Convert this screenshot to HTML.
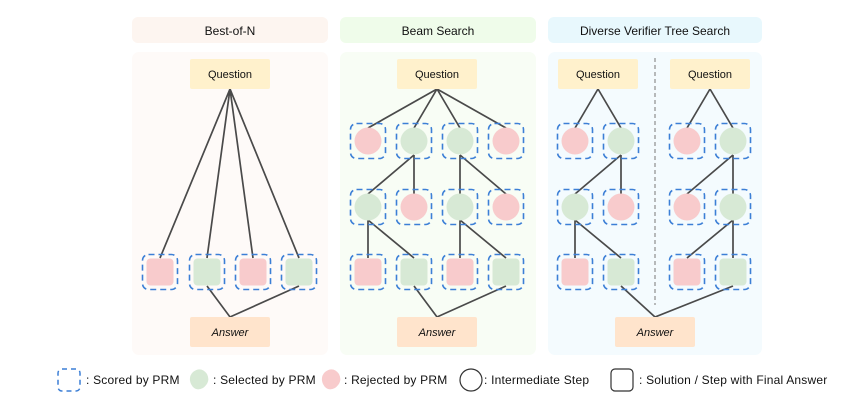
<!DOCTYPE html>
<html><head><meta charset="utf-8"><style>
body{margin:0;background:#fff;}
svg{display:block;font-family:"Comic Sans MS","Liberation Sans",sans-serif;}
</style></head><body>
<svg width="866" height="405" viewBox="0 0 866 405" xmlns="http://www.w3.org/2000/svg">
<defs>
<g id="dbox"><rect x="-17.5" y="-17.5" width="35" height="35" rx="6" fill="none" stroke="#3c7fd6" stroke-width="1.6" stroke-dasharray="6,4"/></g>
<g id="cr"><use href="#dbox"/><circle r="13.5" fill="#f8cbcc"/></g>
<g id="cg"><use href="#dbox"/><circle r="13.5" fill="#d7e9d5"/></g>
<g id="sr"><use href="#dbox"/><rect x="-13.5" y="-13.5" width="27" height="27" rx="4" fill="#f8cbcc"/></g>
<g id="sg"><use href="#dbox"/><rect x="-13.5" y="-13.5" width="27" height="27" rx="4" fill="#d7e9d5"/></g>
</defs>
<rect x="132" y="17" width="196" height="26" rx="6" fill="#fdf5f0"/>
<rect x="340" y="17" width="196" height="26" rx="6" fill="#effcea"/>
<rect x="548" y="17" width="214" height="26" rx="6" fill="#e8f8fd"/>
<text x="230" y="35" font-size="12" text-anchor="middle" fill="#111">Best-of-N</text>
<text x="438" y="35" font-size="12" text-anchor="middle" fill="#111">Beam Search</text>
<text x="655" y="35" font-size="12" text-anchor="middle" fill="#111">Diverse Verifier Tree Search</text>
<rect x="132" y="52" width="196" height="303" rx="7" fill="#fefaf8"/>
<rect x="340" y="52" width="196" height="303" rx="7" fill="#f8fdf5"/>
<rect x="548" y="52" width="214" height="303" rx="7" fill="#f4fbfe"/>
<g stroke="#4a4a4a" stroke-width="1.7" fill="none">
<path d="M230 89 L160 258 M230 89 L207 258 M230 89 L253 258 M230 89 L299 258"/>
<path d="M207 286 L230 317 L299 286"/>
<path d="M437 89 L368 128 M437 89 L414 128 M437 89 L460 128 M437 89 L506 128"/>
<path d="M414 155 L368 194 M414 155 L414 194 M460 155 L460 194 M460 155 L506 194"/>
<path d="M368 220 L368 258 M368 220 L414 258 M460 220 L460 258 M460 220 L506 258"/>
<path d="M414 286 L437 317 L506 286"/>
<path d="M598 89 L575 128 M598 89 L621 128 M621 155 L575 194 M621 155 L621 194 M575 220 L575 258 M575 220 L621 258"/>
<path d="M710 89 L687 128 M710 89 L733 128 M733 155 L687 194 M733 155 L733 194 M733 220 L687 258 M733 220 L733 258"/>
<path d="M621 286 L655 317 L733 286"/>
</g>
<line x1="655" y1="58" x2="655" y2="305" stroke="#777" stroke-width="1" stroke-dasharray="4,3"/>
<g font-size="11" text-anchor="middle" fill="#111">
<rect x="190" y="59" width="80" height="30" rx="2" fill="#fff1cc"/><text x="230" y="78">Question</text>
<rect x="397" y="59" width="80" height="30" rx="2" fill="#fff1cc"/><text x="437" y="78">Question</text>
<rect x="558" y="59" width="80" height="30" rx="2" fill="#fff1cc"/><text x="598" y="78">Question</text>
<rect x="670" y="59" width="80" height="30" rx="2" fill="#fff1cc"/><text x="710" y="78">Question</text>
<rect x="190" y="317" width="80" height="30" rx="2" fill="#ffe4cc"/><text x="230" y="336" font-style="italic">Answer</text>
<rect x="397" y="317" width="80" height="30" rx="2" fill="#ffe4cc"/><text x="437" y="336" font-style="italic">Answer</text>
<rect x="615" y="317" width="80" height="30" rx="2" fill="#ffe4cc"/><text x="655" y="336" font-style="italic">Answer</text>
</g>
<use href="#sr" x="160" y="272"/><use href="#sg" x="207" y="272"/><use href="#sr" x="253" y="272"/><use href="#sg" x="299" y="272"/>
<use href="#cr" x="368" y="141"/><use href="#cg" x="414" y="141"/><use href="#cg" x="460" y="141"/><use href="#cr" x="506" y="141"/>
<use href="#cg" x="368" y="207"/><use href="#cr" x="414" y="207"/><use href="#cg" x="460" y="207"/><use href="#cr" x="506" y="207"/>
<use href="#sr" x="368" y="272"/><use href="#sg" x="414" y="272"/><use href="#sr" x="460" y="272"/><use href="#sg" x="506" y="272"/>
<use href="#cr" x="575" y="141"/><use href="#cg" x="621" y="141"/><use href="#cr" x="687" y="141"/><use href="#cg" x="733" y="141"/>
<use href="#cg" x="575" y="207"/><use href="#cr" x="621" y="207"/><use href="#cr" x="687" y="207"/><use href="#cg" x="733" y="207"/>
<use href="#sr" x="575" y="272"/><use href="#sg" x="621" y="272"/><use href="#sr" x="687" y="272"/><use href="#sg" x="733" y="272"/>
<rect x="58" y="369" width="22" height="22" rx="4" fill="none" stroke="#3c7fd6" stroke-width="1.5" stroke-dasharray="5,4"/>
<path d="M193 372 q8 -6 14 2 q4 8 -4 14 q-8 4 -12 -4 q-3 -7 2 -12z" fill="#d7e9d5"/>
<path d="M325 372 q8 -6 14 2 q4 8 -4 14 q-8 4 -12 -4 q-3 -7 2 -12z" fill="#f8cbcc"/>
<circle cx="471" cy="380" r="11" fill="none" stroke="#333" stroke-width="1.2"/>
<rect x="611" y="369" width="22" height="22" rx="4" fill="none" stroke="#333" stroke-width="1.2"/>
<g font-size="12" fill="#111" letter-spacing="0.2">
<text x="86" y="384">: Scored by PRM</text>
<text x="213" y="384">: Selected by PRM</text>
<text x="344" y="384">: Rejected by PRM</text>
<text x="484" y="384">: Intermediate Step</text>
<text x="639" y="384">: Solution / Step with Final Answer</text>
</g>
</svg>
</body></html>
